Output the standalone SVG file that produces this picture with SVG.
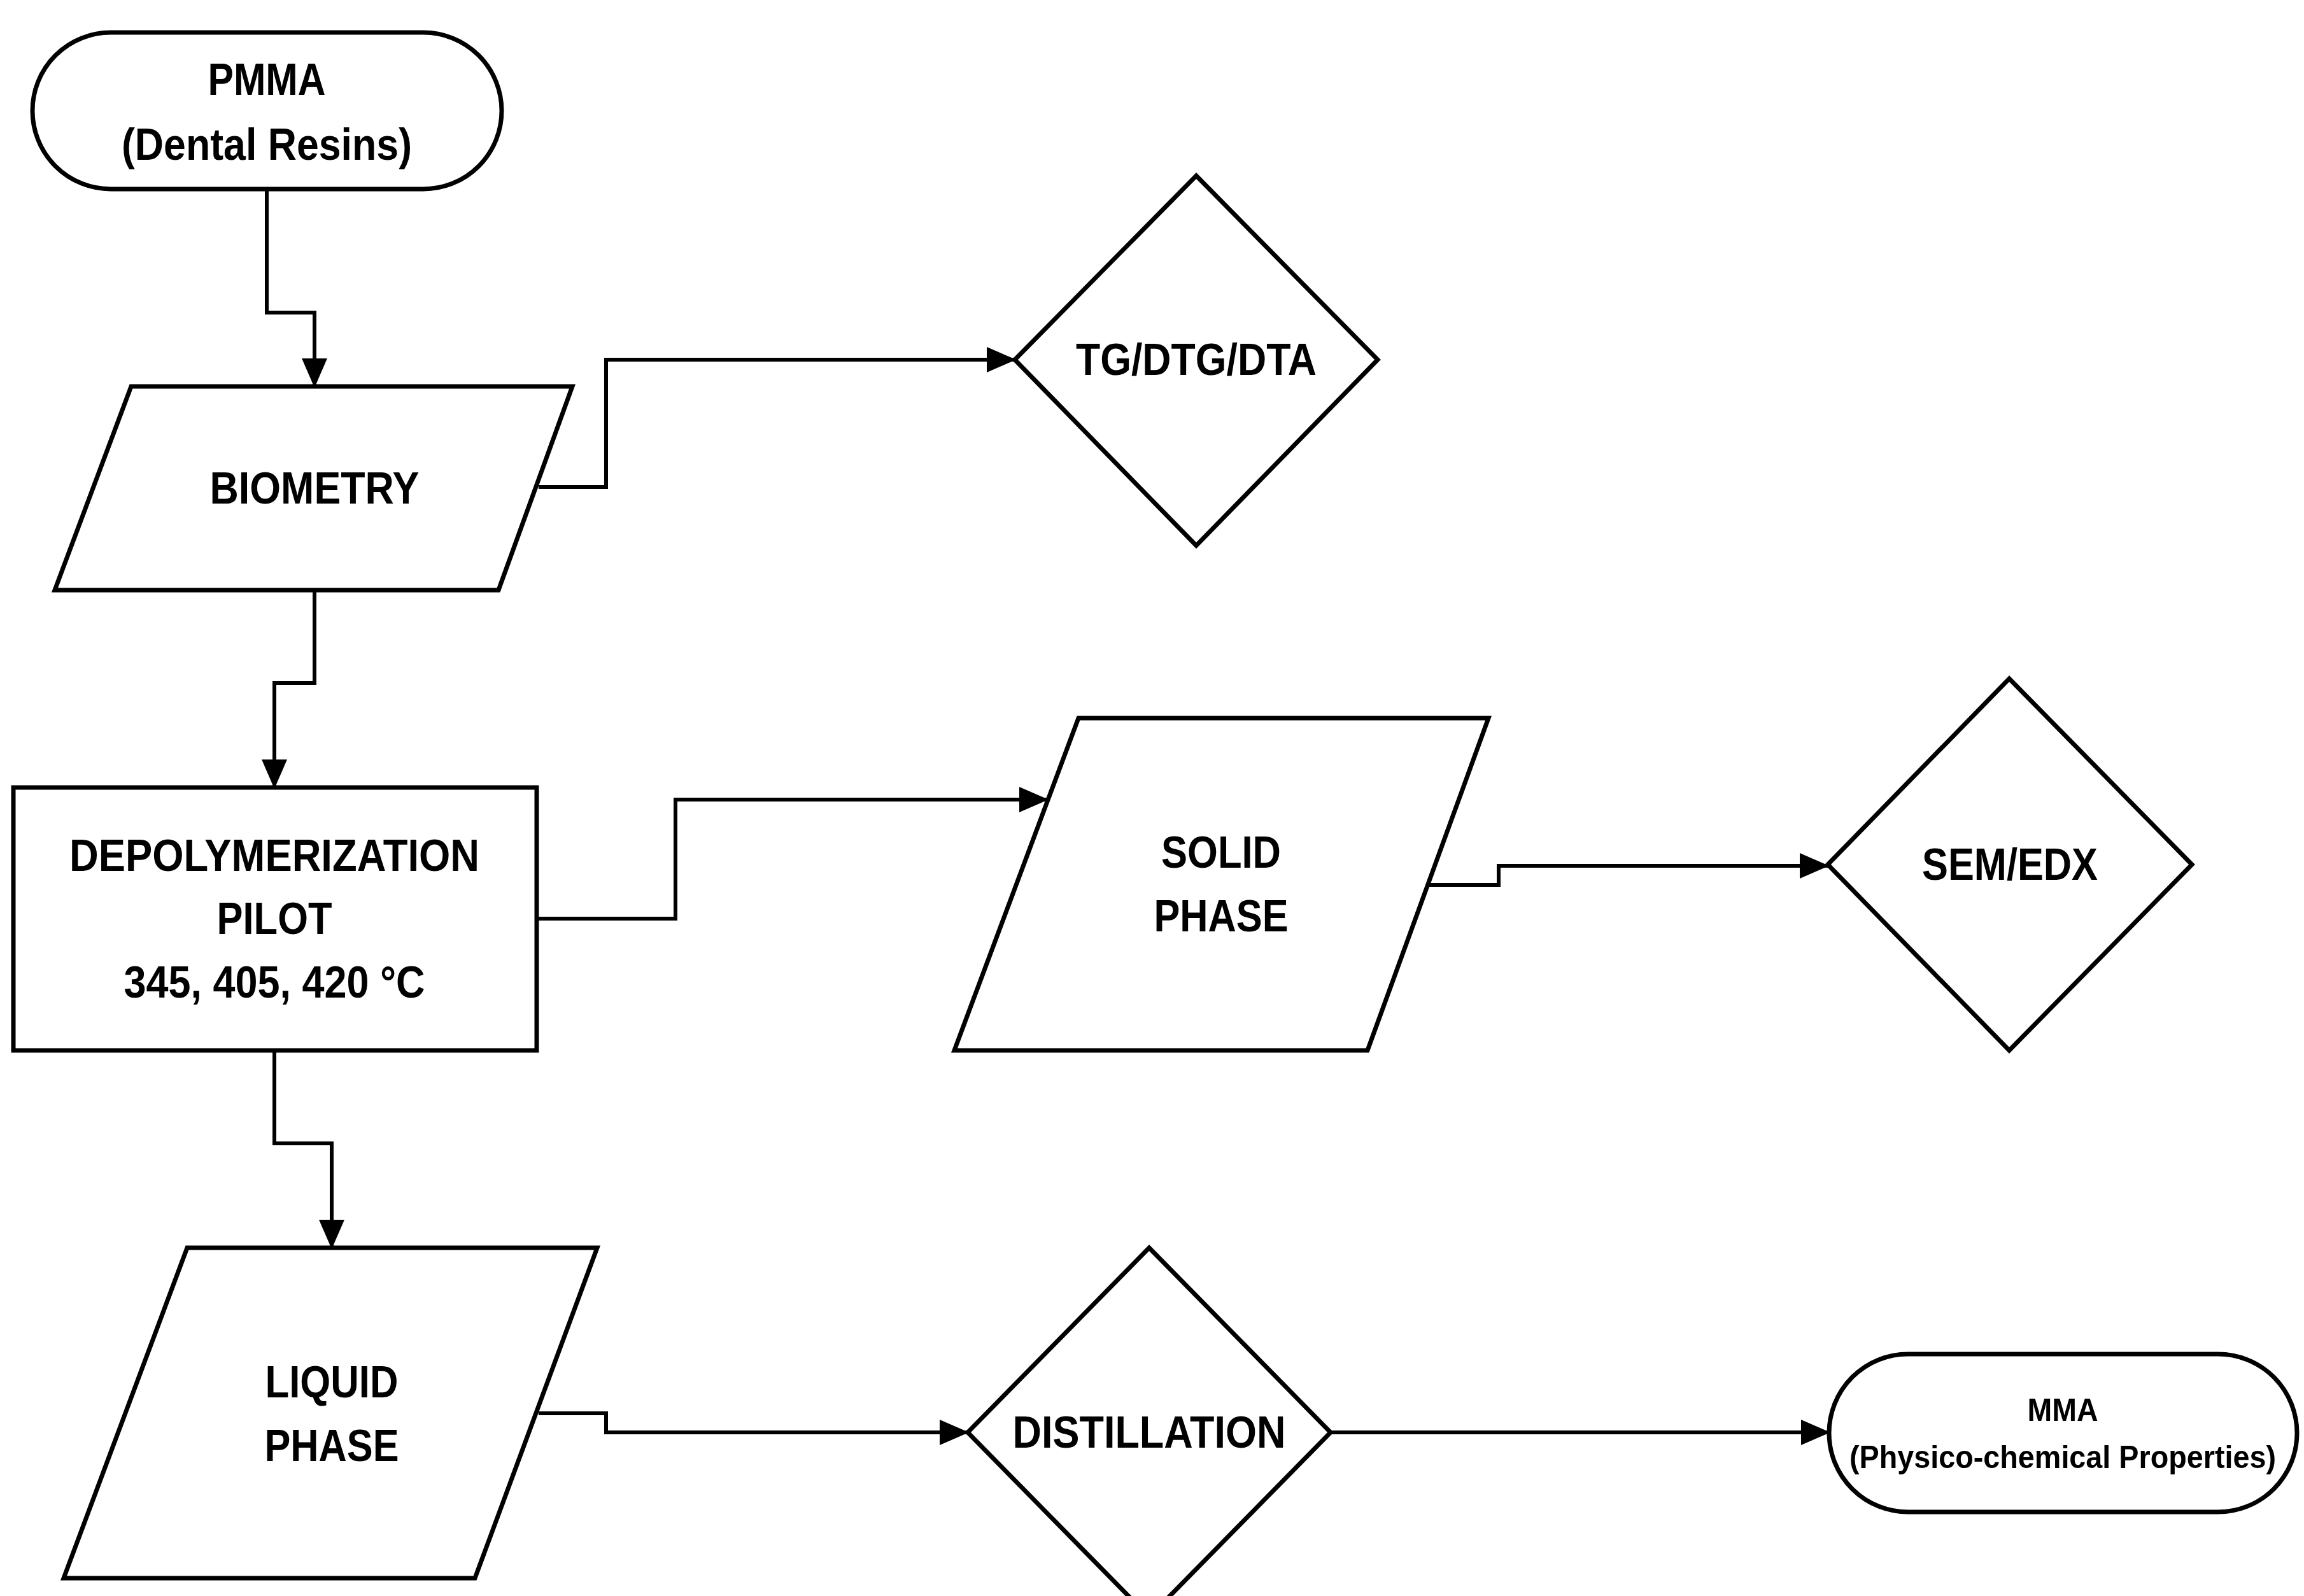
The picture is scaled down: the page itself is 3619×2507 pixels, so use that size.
<svg xmlns="http://www.w3.org/2000/svg" width="3619" height="2507" viewBox="0 0 3619 2507">
<style>
.s{fill:#fff;stroke:#000;stroke-width:7}
.c{fill:none;stroke:#000;stroke-width:6;marker-end:url(#a)}
text{font-family:"Liberation Sans",Arial,sans-serif;font-weight:bold;font-size:70px;text-anchor:middle;dominant-baseline:central}
.m{font-size:50px}
</style>
<defs><marker id="a" markerUnits="userSpaceOnUse" markerWidth="46" markerHeight="40" refX="44" refY="20" orient="auto"><path d="M0,0L46,20L0,40Z"/></marker></defs>
<rect width="3619" height="2507" fill="#fff"/>
<g id="connectors">
<path class="c" d="M419,297V491H494V607"/>
<path class="c" d="M846,765H952V565H1594"/>
<path class="c" d="M494,927V1073H431V1237"/>
<path class="c" d="M843,1443H1061V1256H1645"/>
<path class="c" d="M2245,1390H2354V1360H2871"/>
<path class="c" d="M431,1650V1796H521V1960"/>
<path class="c" d="M846,2220H952V2250H1520"/>
<path class="c" d="M2090,2250H2873"/>
</g>
<g id="pmma"><rect class="s" x="51" y="51" width="737" height="246" rx="123"/><text x="419" y="125" textLength="185" lengthAdjust="spacingAndGlyphs">PMMA</text><text x="419" y="227" textLength="456" lengthAdjust="spacingAndGlyphs">(Dental Resins)</text></g>
<g id="biometry"><path class="s" d="M206,607H899L783,927H86Z"/><text x="494" y="767" textLength="329" lengthAdjust="spacingAndGlyphs">BIOMETRY</text></g>
<g id="tg"><path class="s" d="M1879,276L2164,565L1879,857L1594,565Z"/><text x="1879" y="565" textLength="378" lengthAdjust="spacingAndGlyphs">TG/DTG/DTA</text></g>
<g id="depol"><rect class="s" x="21" y="1237" width="822" height="413"/><text x="431" y="1344" textLength="644" lengthAdjust="spacingAndGlyphs">DEPOLYMERIZATION</text><text x="431" y="1443" textLength="181" lengthAdjust="spacingAndGlyphs">PILOT</text><text x="431" y="1543" textLength="473" lengthAdjust="spacingAndGlyphs">345, 405, 420 °C</text></g>
<g id="solid"><path class="s" d="M1694,1128H2338L2148,1650H1499Z"/><text x="1918" y="1339" textLength="188" lengthAdjust="spacingAndGlyphs">SOLID</text><text x="1918" y="1439" textLength="211" lengthAdjust="spacingAndGlyphs">PHASE</text></g>
<g id="sem"><path class="s" d="M3156,1066L3443,1358L3156,1650L2871,1358Z"/><text x="3157" y="1358" textLength="276" lengthAdjust="spacingAndGlyphs">SEM/EDX</text></g>
<g id="liquid"><path class="s" d="M294,1960H938L746,2479H100Z"/><text x="521" y="2171" textLength="209" lengthAdjust="spacingAndGlyphs">LIQUID</text><text x="521" y="2271" textLength="211" lengthAdjust="spacingAndGlyphs">PHASE</text></g>
<g id="distill"><path class="s" d="M1805,1960L2090,2250L1805,2540L1520,2250Z"/><text x="1805" y="2250" textLength="429" lengthAdjust="spacingAndGlyphs">DISTILLATION</text></g>
<g id="mma"><rect class="s" x="2873" y="2127" width="735" height="248" rx="124"/><text class="m" x="3240" y="2215" textLength="111" lengthAdjust="spacingAndGlyphs">MMA</text><text class="m" x="3240" y="2289" textLength="670" lengthAdjust="spacingAndGlyphs">(Physico-chemical Properties)</text></g>
</svg>
